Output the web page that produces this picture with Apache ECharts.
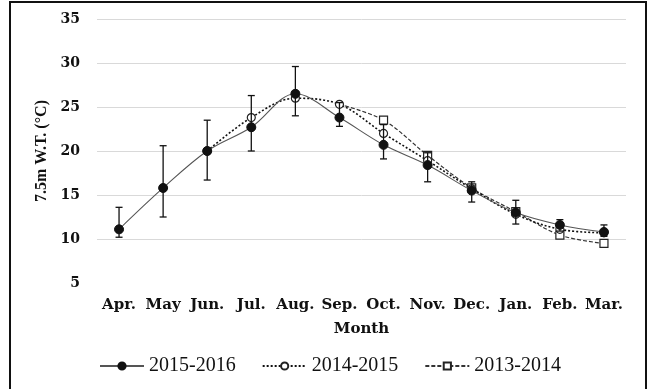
<!DOCTYPE html>
<html>
<head>
<meta charset="utf-8">
<script src="https://cdn.jsdelivr.net/npm/echarts@6/dist/echarts.min.js"></script>
<style>
  html, body { margin: 0; padding: 0; background: #fff; }
  #chart { width: 653px; height: 389px; }
</style>
</head>
<body>
<div id="chart"></div>
<script>
// Monthly water temperature at 7.5 m depth, three survey years
const months = ['Apr.', 'May', 'Jun.', 'Jul.', 'Aug.', 'Sep.', 'Oct.', 'Nov.', 'Dec.', 'Jan.', 'Feb.', 'Mar.'];
const yTicks = [5, 10, 15, 20, 25, 30, 35];

const s2015_2016 = [11.1, 15.8, 20.0, 22.7, 26.5, 23.8, 20.7, 18.4, 15.5, 13.0, 11.6, 10.8];
const s2014_2015 = [null, null, 20.0, 23.8, 26.0, 25.3, 22.0, 18.9, 15.7, 12.8, 11.1, 10.7];
const s2013_2014 = [null, null, null, null, null, 25.3, 23.5, 19.5, 15.8, 13.1, 10.45, 9.5];

// error range (low / high) for 2015-2016
const errLow  = [10.2, 12.5, 16.7, 20.0, 24.0, 22.8, 19.1, 16.5, 14.2, 11.7, 10.9, 10.3];
const errHigh = [13.6, 20.6, 23.5, 26.3, 29.6, 25.5, 23.0, 19.8, 16.5, 14.4, 12.2, 11.6];

const serif = '"Liberation Serif", "Times New Roman", serif';
const wideSerif = '"DejaVu Serif", serif';

const chart = echarts.init(document.getElementById('chart'));

// first point of the 2013-2014 run sits under the 2014-2015 marker
const first1314 = s2013_2014.findIndex(v => v !== null);
const data1314 = s2013_2014.map((v, i) => i === first1314 ? { value: v, symbol: 'none' } : v);

// split line colours: none at the bottom tick, light grey elsewhere
const splitColors = yTicks.map((t, i) => i === 0 ? 'rgba(0,0,0,0)' : '#d9d9d9');

chart.setOption({
  animation: false,
  backgroundColor: '#fff',
  graphic: [{
    type: 'rect',
    shape: { x: 10, y: 2, width: 636, height: 400 },
    style: { fill: 'none', stroke: '#111', lineWidth: 2 },
    silent: true
  }],
  grid: { left: 97, right: 27, top: 19, bottom: 106 },
  legend: {
    left: 99,
    top: 356,
    padding: 0,
    itemWidth: 44,
    itemHeight: 9,
    itemGap: 26,
    textStyle: { fontFamily: serif, fontSize: 20, color: '#111' },
    data: ['2015-2016', '2014-2015', '2013-2014']
  },
  xAxis: {
    type: 'category',
    data: months,
    boundaryGap: true,
    name: 'Month',
    nameLocation: 'middle',
    nameGap: 39,
    nameTextStyle: { fontFamily: wideSerif, fontSize: 15, fontWeight: 'bold', color: '#111' },
    axisLine: { show: false },
    axisTick: { show: false },
    axisLabel: { fontFamily: wideSerif, fontSize: 15, fontWeight: 'bold', color: '#111', margin: 15, interval: 0 }
  },
  yAxis: {
    type: 'value',
    min: 5,
    max: 35,
    interval: 5,
    name: '7.5m W.T. (\u00B0C)',
    nameLocation: 'middle',
    nameGap: 41,
    nameRotate: 90,
    nameTextStyle: { fontFamily: serif, fontSize: 16, fontWeight: 'bold', color: '#111' },
    axisLine: { show: false },
    axisTick: { show: false },
    axisLabel: { fontFamily: wideSerif, fontSize: 14, fontWeight: 'bold', color: '#111', margin: 17 },
    splitLine: { show: true, lineStyle: { color: splitColors, width: 1 } }
  },
  series: [
    {
      name: '2013-2014',
      type: 'line',
      data: data1314,
      smooth: 0.35,
      connectNulls: false,
      symbol: 'rect',
      symbolSize: 8,
      itemStyle: { color: '#fff', borderColor: '#222', borderWidth: 1.2 },
      lineStyle: { color: '#333', width: 1.2, type: [4, 2] },
      z: 2
    },
    {
      name: '2014-2015',
      type: 'line',
      data: s2014_2015,
      smooth: 0.35,
      symbol: 'circle',
      symbolSize: 8,
      itemStyle: { color: '#fff', borderColor: '#222', borderWidth: 1.2 },
      lineStyle: { color: '#111', width: 1.6, type: [2, 2] },
      z: 3
    },
    {
      name: 'err',
      type: 'custom',
      data: errLow.map((lo, i) => [i, lo, errHigh[i]]),
      renderItem: function (params, api) {
        const i = api.value(0);
        const lo = api.coord([i, api.value(1)]);
        const hi = api.coord([i, api.value(2)]);
        const hw = 3.5;
        const st = { stroke: '#111', lineWidth: 1.3 };
        return {
          type: 'group',
          children: [
            { type: 'line', shape: { x1: lo[0], y1: lo[1], x2: hi[0], y2: hi[1] }, style: st },
            { type: 'line', shape: { x1: hi[0] - hw, y1: hi[1], x2: hi[0] + hw, y2: hi[1] }, style: st },
            { type: 'line', shape: { x1: lo[0] - hw, y1: lo[1], x2: lo[0] + hw, y2: lo[1] }, style: st }
          ]
        };
      },
      z: 4
    },
    {
      name: '2015-2016',
      type: 'line',
      data: s2015_2016,
      smooth: 0.35,
      symbol: 'circle',
      symbolSize: 9,
      itemStyle: { color: '#111', borderColor: '#111', borderWidth: 1 },
      lineStyle: { color: '#555', width: 1.1, type: 'solid' },
      z: 5
    }
  ]
});
</script>
</body>
</html>
